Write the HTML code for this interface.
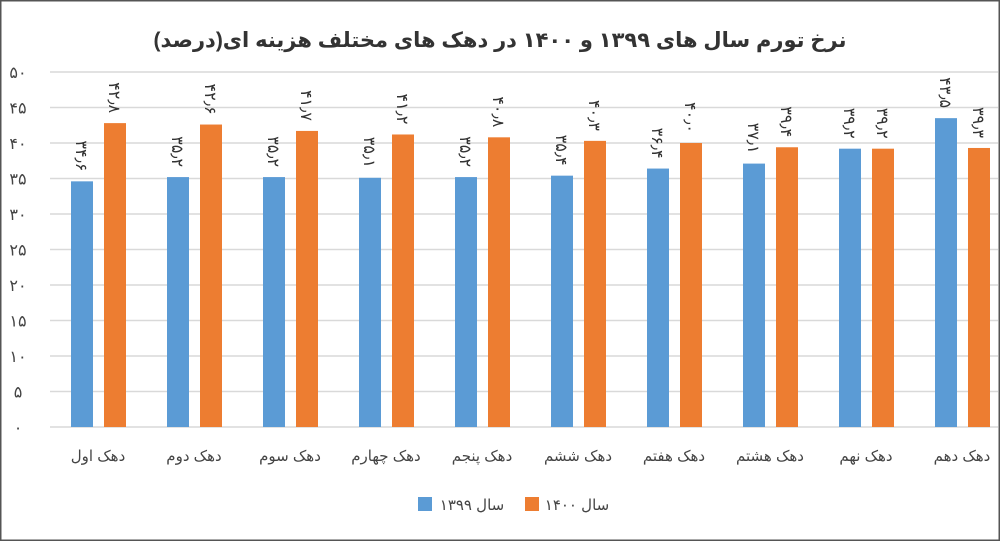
<!DOCTYPE html>
<html><head><meta charset="utf-8"><style>
body{margin:0;background:#fff}
svg{display:block;font-family:"Liberation Sans","Noto Sans CJK SC","DejaVu Sans",sans-serif}
</style></head><body>
<svg id="chart" width="1000" height="541" viewBox="0 0 1000 541">
<rect x="0.5" y="0.5" width="999" height="540" fill="#fff" stroke="#555" stroke-width="2"/>
<text x="500" y="47" text-anchor="middle" font-size="21" font-weight="bold" fill="#333" direction="rtl">نرخ تورم سال های ۱۳۹۹ و ۱۴۰۰ در دهک های مختلف هزینه ای(درصد)</text>
<g id="grid"></g><g id="bars"></g><g id="labels"></g>
<g>
<rect x="418" y="497" width="14" height="14" fill="#5b9bd5"/>
<text x="472" y="510" text-anchor="middle" font-size="15" fill="#444">سال ۱۳۹۹</text>
<rect x="525" y="497" width="14" height="14" fill="#ed7d31"/>
<text x="577" y="510" text-anchor="middle" font-size="15" fill="#444">سال ۱۴۰۰</text>
</g>
</svg>
<script>
const categories=["دهک اول","دهک دوم","دهک سوم","دهک چهارم","دهک پنجم","دهک ششم","دهک هفتم","دهک هشتم","دهک نهم","دهک دهم"];
const series1399=[34.6,35.2,35.2,35.1,35.2,35.4,36.4,37.1,39.2,43.5];
const series1400=[42.8,42.6,41.7,41.2,40.8,40.3,40.0,39.4,39.2,39.3];
const yTicks=[0,5,10,15,20,25,30,35,40,45,50];
const NS="http://www.w3.org/2000/svg";
const y0=427,pxPer=7.1,x0=52,step=96;
const y=v=>y0-v*pxPer;
const gx=i=>x0+step*i;
const fa=s=>String(s).replace(/\d/g,d=>"۰۱۲۳۴۵۶۷۸۹"[d]).replace(".","٫");
function mk(tag,attrs,parent){const e=document.createElementNS(NS,tag);for(const k in attrs)e.setAttribute(k,attrs[k]);document.getElementById(parent).appendChild(e);return e;}
yTicks.forEach(t=>{
 const l=mk("line",{x1:50,x2:998,y1:y(t),y2:y(t),stroke:"#d9d9d9","stroke-width":1.5},"grid");
 
 
 const tx=mk("text",{x:18,y:y(t)+6,"text-anchor":"middle","font-size":16,fill:"#444"},"grid");
 tx.textContent=fa(t);
 
 
});
categories.forEach((c,i)=>{
 const bx=gx(i)+19,ox=gx(i)+52,w=22;
 [[bx,series1399[i],"#5b9bd5","bar-1399"],[ox,series1400[i],"#ed7d31","bar-1400"]].forEach(([x,v,col,nm])=>{
  const r=mk("rect",{x:x,y:y(v),width:w,height:y0-y(v),fill:col},"bars");
  
  
  const cx=x+w/2,ty=y(v)-10;
  const t=mk("text",{x:0,y:0,transform:`translate(${cx-6},${ty}) rotate(90)`,"text-anchor":"end","font-size":16,fill:"#333"},"labels");
  t.textContent=fa(v.toFixed(1));
  
  
 });
 const ct=mk("text",{x:gx(i)+46,y:461,"text-anchor":"middle","font-size":15,fill:"#444",direction:"rtl"},"labels");
 ct.textContent=c;
 
 
});
</script>
</body></html>
